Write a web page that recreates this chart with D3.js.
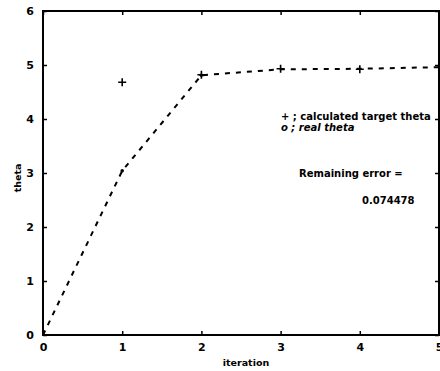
<!DOCTYPE html>
<html><head><meta charset="utf-8">
<script src="https://cdn.jsdelivr.net/npm/d3@7"></script>
<style>body{margin:0;background:#fff}svg{display:block}text{font-family:"DejaVu Sans",Arial,sans-serif;font-weight:bold;fill:#000}</style>
</head><body>
<svg id="c" width="440" height="371"></svg>
<script>
const iterations = [0, 1, 2, 3, 4, 5];
const realTheta = [0.0, 3.04, 4.81, 4.92, 4.93, 4.96];
const targetIter = [1, 2, 3, 4];
const targetTheta = [4.68, 4.82, 4.93, 4.92];
const xTicks = [0, 1, 2, 3, 4, 5];
const yTicks = [0, 1, 2, 3, 4, 5, 6];

const FONT = '"DejaVu Sans",Arial,sans-serif';
const svg = d3.select("#c");
const x = d3.scaleLinear().domain([0, 5]).range([43, 439]);
const y = d3.scaleLinear().domain([0, 6]).range([335, 11]);

// frame
svg.append("rect").attr("x", x(0)).attr("y", y(6)).attr("width", x(5) - x(0)).attr("height", y(0) - y(6))
  .attr("fill", "none").attr("stroke", "#000").attr("stroke-width", 2);

// axes
const xb = svg.append("g").attr("transform", `translate(0,${y(0)})`)
  .call(d3.axisBottom(x).tickValues(xTicks).tickSize(-4).tickPadding(8).tickFormat(d3.format("d")));
const xt = svg.append("g").attr("transform", `translate(0,${y(6)})`)
  .call(d3.axisTop(x).tickValues(xTicks).tickSize(-4).tickFormat(""));
const yl = svg.append("g").attr("transform", `translate(${x(0)},0)`)
  .call(d3.axisLeft(y).tickValues(yTicks).tickSize(-4).tickPadding(9).tickFormat(d3.format("d")));
const yr = svg.append("g").attr("transform", `translate(${x(5)},0)`)
  .call(d3.axisRight(y).tickValues(yTicks).tickSize(-4).tickFormat(""));
[xb, xt, yl, yr].forEach(a => {
  a.select(".domain").remove();
  a.selectAll(".tick line").attr("stroke", "#000").attr("stroke-width", 1.5);
  a.selectAll("text").attr("font-size", 11).attr("font-family", FONT).attr("font-weight", "bold");
});

// real theta dashed line
const pts = iterations.map((d, i) => [d, realTheta[i]]);
svg.append("path").datum(pts)
  .attr("d", d3.line().x(d => x(d[0])).y(d => y(d[1])))
  .attr("fill", "none").attr("stroke", "#000").attr("stroke-width", 2)
  .attr("stroke-dasharray", "5,6");
svg.append("g").selectAll("circle").data(pts.slice(1, 3)).join("circle")
  .attr("cx", d => x(d[0])).attr("cy", d => y(d[1])).attr("r", 1.8).attr("fill", "#000");

// target markers
const tp = targetIter.map((d, i) => [d, targetTheta[i]]);
svg.append("g").selectAll("path").data(tp).join("path")
  .attr("d", d => `M${x(d[0]) - 4},${y(d[1])}H${x(d[0]) + 4}M${x(d[0])},${y(d[1]) - 4}V${y(d[1]) + 4}`)
  .attr("stroke", "#000").attr("stroke-width", 1.6);

// labels
svg.append("text").attr("x", 246).attr("y", 366).attr("text-anchor", "middle").attr("font-size", 9.5).text("iteration");
svg.append("text").attr("transform", "translate(21,178) rotate(-90)").attr("text-anchor", "middle").attr("font-size", 9.5).text("theta");

svg.append("text").attr("x", 281).attr("y", 120).attr("font-size", 10).text("+ ; calculated target theta");
svg.append("text").attr("x", 281).attr("y", 131).attr("font-size", 10).attr("font-style", "italic").text("o ; real theta");
svg.append("text").attr("x", 299).attr("y", 177).attr("font-size", 10).text("Remaining error =");
svg.append("text").attr("x", 362).attr("y", 204).attr("font-size", 10).text("0.074478");
</script>
</body></html>
